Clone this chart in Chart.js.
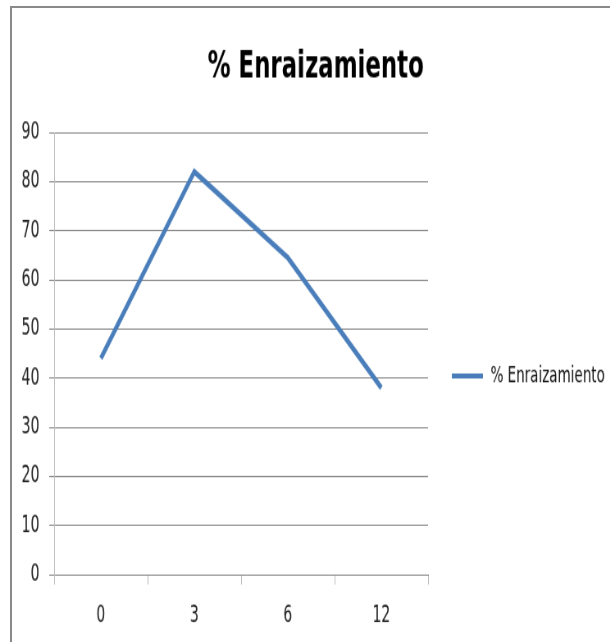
<!DOCTYPE html>
<html>
<head>
<meta charset="utf-8">
<script src="https://cdn.jsdelivr.net/npm/chart.js@4/dist/chart.umd.min.js"></script>
<style>
  html, body { margin: 0; padding: 0; background: #fff; overflow: hidden; }
  #frame { position: absolute; left: 10px; top: 6px; right: 0; bottom: 0;
           border-left: 2px solid #8a8a8a; border-top: 2px solid #8a8a8a; }
  /* the source picture is a squeezed/stretched spreadsheet chart, so squeeze the canvas the same way */
  #chart { position: absolute; left: 0; top: 0; transform: scale(0.82, 1.249); transform-origin: 0 0; }
</style>
</head>
<body>
<div id="frame"></div>
<canvas id="chart" width="744" height="514"></canvas>
<script>
// Chart data
const categories = ['0', '3', '6', '12'];
const seriesName = '% Enraizamiento';
const rooting = [44, 82, 64.5, 38];
const yMin = 0, yMax = 90, yStep = 10;

const FONT = "'DejaVu Sans Condensed', 'DejaVu Sans', sans-serif";
const BLUE = '#4a7ebb';

new Chart(document.getElementById('chart'), {
  type: 'line',
  data: {
    labels: categories,
    datasets: [{
      label: seriesName,
      data: rooting,
      borderColor: BLUE,
      backgroundColor: BLUE,
      borderWidth: 4.5,
      pointRadius: 0,
      tension: 0,
      fill: false
    }]
  },
  options: {
    responsive: false,
    animation: false,
    layout: { padding: { left: 26, right: 0, top: 0, bottom: 0 } },
    plugins: {
      tooltip: { enabled: false },
      title: {
        display: true,
        text: seriesName,
        color: '#000',
        font: { family: FONT, size: 31, weight: 'bold', lineHeight: 1.2 },
        padding: { top: 35.5, bottom: 33.3 }
      },
      legend: {
        display: true,
        position: 'right',
        maxWidth: 222,
        // empty title only pushes the entry down to where the reference has it
        title: { display: true, text: ' ', font: { size: 10, lineHeight: 1.2 }, padding: { top: 38, bottom: 38 } },
        labels: {
          boxWidth: 38,
          boxHeight: 4,
          padding: 29,
          font: { family: FONT, size: 18.3 },
          generateLabels: chart => chart.data.datasets.map((ds, i) => ({
            text: ds.label,
            fillStyle: ds.borderColor,
            strokeStyle: ds.borderColor,
            fontColor: '#111',
            lineWidth: 0,
            datasetIndex: i
          }))
        }
      }
    },
    scales: {
      x: {
        offset: true,
        afterFit: s => { s.height = 54; },
        grid: { display: true, drawOnChartArea: false, offset: true, tickLength: 8, color: '#bdbdbd' },
        border: { display: true, color: '#8c8c8c', width: 1 },
        ticks: { color: '#222', padding: 14, font: { family: FONT, size: 19 } }
      },
      y: {
        min: yMin,
        max: yMax,
        afterFit: s => { s.width = 40; },
        grid: { color: '#8c8c8c', tickLength: 6 },
        border: { display: true, color: '#bdbdbd', width: 1 },
        ticks: { stepSize: yStep, color: '#222', padding: 12, font: { family: FONT, size: 19 } }
      }
    }
  }
});
</script>
</body>
</html>
